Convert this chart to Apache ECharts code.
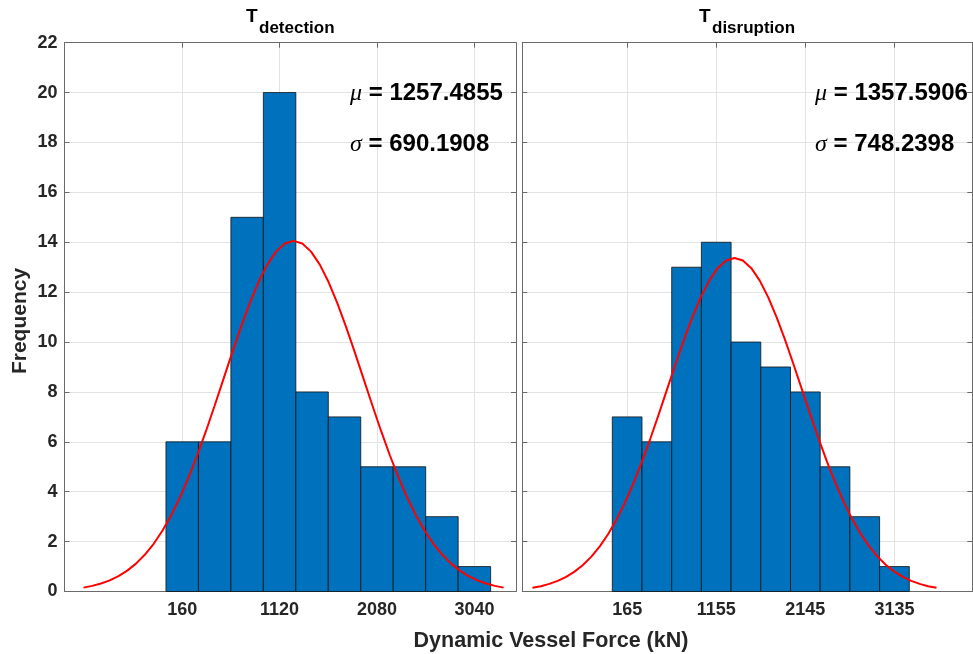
<!DOCTYPE html>
<html>
<head>
<meta charset="utf-8">
<script src="https://cdn.jsdelivr.net/npm/echarts@6/dist/echarts.min.js"></script>
<style>
html,body{margin:0;padding:0;background:#fff;}
#chart{width:973px;height:654px;}
</style>
</head>
<body>
<div id="chart"></div>
<script>
// ---------- data ----------
const leftBinEdges = [0, 320, 640, 960, 1280, 1600, 1920, 2240, 2560, 2880, 3200];
const leftCounts = [6, 6, 15, 20, 8, 7, 5, 5, 3, 1];
const rightBinEdges = [0, 330, 660, 990, 1320, 1650, 1980, 2310, 2640, 2970, 3300];
const rightCounts = [7, 6, 13, 14, 10, 9, 8, 5, 3, 1];

const leftTicks = [160, 1120, 2080, 3040];
const rightTicks = [165, 1155, 2145, 3135];

const leftCurveX = [-813.1, -726.8, -640.5, -554.3, -468.0, -381.7, -295.4, -209.2, -122.9, -36.6, 49.7, 135.9, 222.2, 308.5, 394.8, 481.0, 567.3, 653.6, 739.9, 826.1, 912.4, 998.7, 1084.9, 1171.2, 1257.5, 1343.8, 1430.0, 1516.3, 1602.6, 1688.9, 1775.1, 1861.4, 1947.7, 2034.0, 2120.2, 2206.5, 2292.8, 2379.1, 2465.3, 2551.6, 2637.9, 2724.2, 2810.4, 2896.7, 2983.0, 3069.2, 3155.5, 3241.8, 3328.1];
const leftCurveY = [0.156, 0.225, 0.320, 0.448, 0.618, 0.838, 1.118, 1.470, 1.902, 2.424, 3.040, 3.754, 4.564, 5.462, 6.436, 7.466, 8.526, 9.586, 10.611, 11.563, 12.405, 13.103, 13.625, 13.948, 14.057, 13.948, 13.625, 13.103, 12.405, 11.563, 10.611, 9.586, 8.526, 7.466, 6.436, 5.462, 4.564, 3.754, 3.040, 2.424, 1.902, 1.470, 1.118, 0.838, 0.618, 0.448, 0.320, 0.225, 0.156];
const rightCurveX = [-887.1, -793.6, -700.1, -606.5, -513.0, -419.5, -326.0, -232.4, -138.9, -45.4, 48.2, 141.7, 235.2, 328.8, 422.3, 515.8, 609.4, 702.9, 796.4, 890.0, 983.5, 1077.0, 1170.5, 1264.1, 1357.6, 1451.1, 1544.6, 1638.2, 1731.7, 1825.2, 1918.8, 2012.3, 2105.8, 2199.4, 2292.9, 2386.4, 2479.9, 2573.5, 2667.0, 2760.5, 2854.1, 2947.6, 3041.1, 3134.7, 3228.2, 3321.7, 3415.2, 3508.8, 3602.3];
const rightCurveY = [0.149, 0.214, 0.305, 0.427, 0.588, 0.797, 1.064, 1.398, 1.810, 2.306, 2.892, 3.571, 4.341, 5.196, 6.122, 7.102, 8.111, 9.119, 10.094, 11.000, 11.801, 12.464, 12.961, 13.268, 13.372, 13.268, 12.961, 12.464, 11.801, 11.000, 10.094, 9.119, 8.111, 7.102, 6.122, 5.196, 4.341, 3.571, 2.892, 2.306, 1.810, 1.398, 1.064, 0.797, 0.588, 0.427, 0.305, 0.214, 0.149];

const leftStats = { mu: '1257.4855', sigma: '690.1908' };
const rightStats = { mu: '1357.5906', sigma: '748.2398' };
const titles = ['detection', 'disruption'];
const yLabel = 'Frequency';
const xLabel = 'Dynamic Vessel Force (kN)';

// ---------- build ----------
function binData(edges, counts) {
  return counts.map((c, i) => [edges[i], edges[i + 1], c]);
}
function zip(xs, ys) { return xs.map((x, i) => [x, ys[i]]); }

const FONT = '"Liberation Sans", Arial, Helvetica, sans-serif';
const TXT = '#262626';
const AX = '#6a6a6a';
const GRIDC = '#e3e3e3';

function xAx(gridIndex, min, max, ticks, bottom) {
  return {
    type: 'value', gridIndex, min, max,
    position: bottom ? 'bottom' : 'top',
    axisLine: { show: true, onZero: false, lineStyle: { color: AX, width: 1 } },
    axisTick: { show: true, inside: true, length: 5, customValues: ticks, lineStyle: { color: AX } },
    axisLabel: { show: bottom, customValues: ticks, formatter: v => String(v), margin: 10, color: TXT, fontSize: 18, fontWeight: 'bold', fontFamily: FONT },
    splitLine: { show: bottom, lineStyle: { color: GRIDC, width: 1 } }
  };
}
function yAx(gridIndex, left, labels) {
  return {
    type: 'value', gridIndex, min: 0, max: 22, interval: 2,
    position: left ? 'left' : 'right',
    axisLine: { show: true, onZero: false, lineStyle: { color: AX, width: 1 } },
    axisTick: { show: true, inside: true, length: 5, lineStyle: { color: AX } },
    axisLabel: { show: labels, margin: 7, color: TXT, fontSize: 18, fontWeight: 'bold', fontFamily: FONT },
    splitLine: { show: left, lineStyle: { color: GRIDC, width: 1 } }
  };
}

function histSeries(idx, data) {
  return {
    type: 'custom', xAxisIndex: idx * 2, yAxisIndex: idx * 2,
    data: data, encode: { x: [0, 1], y: 2 },
    renderItem: function (params, api) {
      const p0 = api.coord([api.value(0), 0]);
      const p1 = api.coord([api.value(1), api.value(2)]);
      return {
        type: 'rect',
        shape: { x: p0[0], y: p1[1], width: p1[0] - p0[0], height: p0[1] - p1[1] },
        style: { fill: '#0072BD', stroke: '#111', lineWidth: 0.8 }
      };
    },
    z: 2
  };
}
function curveSeries(idx, data) {
  return {
    type: 'line', xAxisIndex: idx * 2, yAxisIndex: idx * 2,
    data: data, smooth: false, showSymbol: false, symbol: 'none',
    lineStyle: { color: '#ff0000', width: 2 }, z: 3, silent: true
  };
}

function statText(x, y, sym, val) {
  return {
    type: 'text', x: x, y: y, z: 10,
    style: {
      text: '{s|' + sym + '}{v| = ' + val + '}',
      align: 'left', verticalAlign: 'middle',
      rich: {
        s: { fontFamily: '"Liberation Serif", "Times New Roman", serif', fontStyle: 'italic', fontSize: 24, fill: '#000' },
        v: { fontFamily: FONT, fontWeight: 'bold', fontSize: 24, fill: '#000' }
      }
    }
  };
}
function titleText(tx, sub) {
  return [
    { type: 'text', x: tx, y: 17, style: { text: 'T', font: 'bold 19px ' + FONT, fill: '#000', align: 'left', verticalAlign: 'middle' } },
    { type: 'text', x: tx + 13, y: 28, style: { text: sub, font: 'bold 17px ' + FONT, fill: '#000', align: 'left', verticalAlign: 'middle' } }
  ];
}

const option = {
  animation: false,
  backgroundColor: '#fff',
  grid: [
    { left: 64.5, top: 42.7, width: 451.5, height: 548.8, containLabel: false },
    { left: 522.3, top: 42.7, width: 450, height: 548.8, containLabel: false }
  ],
  xAxis: [
    xAx(0, -1000, 3450, leftTicks, true),
    xAx(0, -1000, 3450, leftTicks, false),
    xAx(1, -1000, 4000, rightTicks, true),
    xAx(1, -1000, 4000, rightTicks, false)
  ],
  yAxis: [
    yAx(0, true, true),
    yAx(0, false, false),
    yAx(1, true, false),
    yAx(1, false, false)
  ],
  series: [
    histSeries(0, binData(leftBinEdges, leftCounts)),
    curveSeries(0, zip(leftCurveX, leftCurveY)),
    histSeries(1, binData(rightBinEdges, rightCounts)),
    curveSeries(1, zip(rightCurveX, rightCurveY))
  ],
  graphic: [
    ...titleText(246, titles[0]),
    ...titleText(699, titles[1]),
    statText(350, 93.5, 'μ', leftStats.mu),
    statText(350, 144.5, 'σ', leftStats.sigma),
    statText(815, 93.5, 'μ', rightStats.mu),
    statText(815, 144.5, 'σ', rightStats.sigma),
    { type: 'text', x: 20, y: 321, rotation: Math.PI / 2, style: { text: yLabel, font: 'bold 21px ' + FONT, fill: TXT, align: 'center', verticalAlign: 'middle' } },
    { type: 'text', x: 551, y: 641, style: { text: xLabel, font: 'bold 21.5px ' + FONT, fill: TXT, align: 'center', verticalAlign: 'middle' } }
  ]
};

const chart = echarts.init(document.getElementById('chart'), null, { renderer: 'canvas' });
chart.setOption(option);
</script>
</body>
</html>
